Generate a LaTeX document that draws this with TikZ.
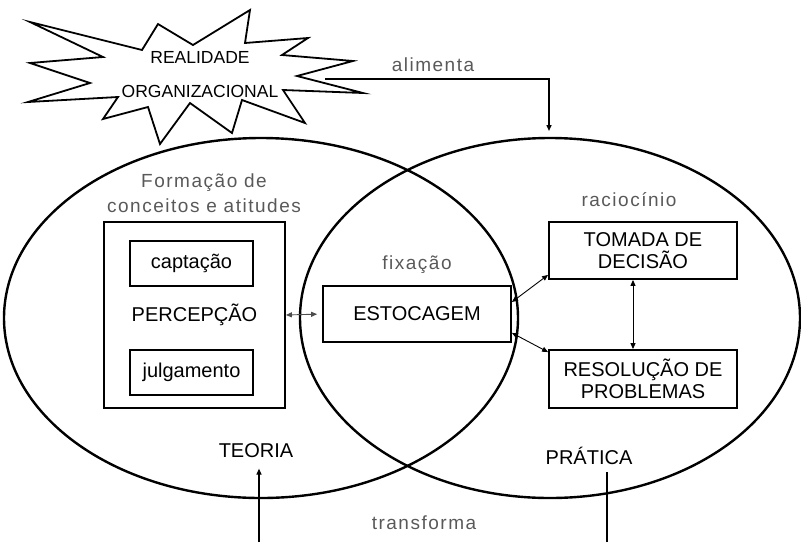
\documentclass[tikz,border=0pt]{standalone}
\usepackage{fontspec}
\setmainfont{Liberation Sans}
\newfontfamily\lightfont[LetterSpace=8]{Liberation Sans}
\usetikzlibrary{arrows.meta}

\begin{document}
\begin{tikzpicture}[x=1pt,y=-1pt,
    >={Triangle[length=6pt,width=5pt]},
    box/.style={draw,line width=1.8pt,inner sep=0pt,align=center,
      font=\fontsize{20}{22}\selectfont},
    bigtext/.style={align=center,font=\fontsize{20}{22}\selectfont},
    graytext/.style={text=black!65,align=center,
      font=\lightfont\fontsize{19}{25}\selectfont},
    link/.style={<->,line width=0.9pt}]
  \useasboundingbox (0,0) rectangle (801,542);

  % Define the radius of the two sets
  \def\ry{180pt}

  % Draw the starburst
  \draw[line width=1.8pt,line join=miter]
    (30,22) -- (142,50) -- (158,24) -- (193,45) -- (250,10) -- (245,43)
    -- (308,38) -- (282,55) -- (353,61) -- (297,76) -- (363,93) -- (283,90)
    -- (305,123) -- (242,100) -- (232,133) -- (190,103) -- (160,144)
    -- (148,107) -- (103,119) -- (118,97) -- (28,102) -- (90,83) -- (30,63)
    -- (103,57) -- cycle;
  \node[align=center,font=\fontsize{17.5}{34}\selectfont] (realidade) at (200,75)
    {REALIDADE\\ORGANIZACIONAL};

  % Draw the two sets
  \draw[line width=2.4pt] (261,318) ellipse [x radius=257pt, y radius=\ry];
  \draw[line width=2.4pt] (550,318) ellipse [x radius=250pt, y radius=\ry];

  % Define the free ends of the connectors
  \coordinate (burst tip) at (325,79);
  \coordinate (pratica top) at (549,138);
  \coordinate (teoria foot) at (259,542);
  \coordinate (pratica foot) at (607,542);

  % Left set
  \node[graytext] (formacao) at (204,193) {Formação de\\conceitos e atitudes};
  \node[box, minimum width=181pt, minimum height=186pt] (percepcao) at (194.5,315) {PERCEPÇÃO};
  \node[box, minimum width=123pt, minimum height=45pt] (captacao) at (191.5,263.5) {captação};
  \node[box, minimum width=123pt, minimum height=45pt] (julgamento) at (191.5,372.5) {julgamento};
  \node[bigtext] (teoria) at (256,451) {TEORIA};

  % Middle
  \node[graytext] (fixacao) at (417,265) {fixação};
  \node[box, minimum width=188pt, minimum height=56pt] (estocagem) at (417,314) {ESTOCAGEM};

  % Right set
  \node[graytext] (raciocinio) at (629,200) {raciocínio};
  \node[box, minimum width=188pt, minimum height=57pt] (tomada) at (643,250.5) {TOMADA DE\\DECISÃO};
  \node[box, minimum width=188pt, minimum height=58pt] (resolucao) at (643,379) {RESOLUÇÃO DE\\PROBLEMAS};
  \node[bigtext] (pratica) at (589,456) {PRÁTICA};

  % Bottom and top labels
  \node[graytext] (alimenta) at (433,65) {alimenta};
  \node[graytext] (transforma) at (424,523) {transforma};

  % Draw the connectors
  \draw[line width=1.4pt,->,shorten >=7pt] (burst tip) -| (pratica top);
  \draw[link,black!70,shorten >=5pt] (percepcao.east) -- (estocagem.west);
  \draw[link] ([yshift=12pt]estocagem.east) -- ([yshift=5pt]tomada.south west);
  \draw[link] ([yshift=10pt]estocagem.south east) -- ([yshift=-3pt]resolucao.north west);
  \draw[link] ([xshift=-10pt]tomada.south) -- ([xshift=-10pt]resolucao.north);
  \draw[line width=1.2pt,->,shorten >=7pt] (teoria foot) -- (teoria foot |- teoria.south);
  \draw[line width=2pt,shorten >=4pt] (pratica foot) -- (pratica foot |- pratica.south);

\end{tikzpicture}
\end{document}
